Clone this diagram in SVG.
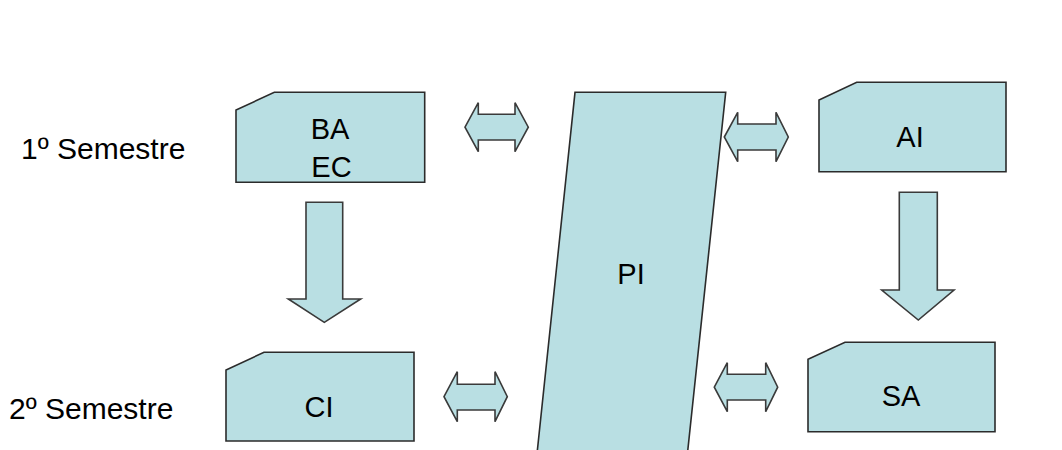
<svg xmlns="http://www.w3.org/2000/svg" width="1062" height="450" viewBox="0 0 1062 450">
<style>
.shape{fill:#B9DFE3;stroke:#2b2b2b;stroke-width:1.6;stroke-linejoin:miter}
.arrow{fill:#B9DFE3;stroke:#3a3a3a;stroke-width:1.6;stroke-linejoin:miter}
.lbl{font-family:"Liberation Sans",Arial,sans-serif;font-size:29px;fill:#000;text-anchor:middle}
.side{font-family:"Liberation Sans",Arial,sans-serif;font-size:30px;fill:#000}
</style>
<rect width="1062" height="450" fill="#ffffff"/>
<g id="label-sem1"><text class="side" x="21" y="158.5">1º Semestre</text></g>
<g id="label-sem2"><text class="side" x="9" y="418.5">2º Semestre</text></g>
<g id="node-PI">
<polygon class="shape" points="575,92.3 725.7,92.3 685.7,470 535.3,470"/>
<text class="lbl" x="631" y="283.5">PI</text>
</g>
<g id="node-BAEC">
<polygon class="shape" points="274.3,92.3 424.7,92.3 424.7,182.3 236,182.3 236,110"/>
<text class="lbl" x="330" y="138.5">BA</text>
<text class="lbl" x="331.5" y="177">EC</text>
</g>
<g id="node-AI">
<polygon class="shape" points="856.7,82.3 1006,82.3 1006,171.7 819,171.7 819,100"/>
<text class="lbl" x="910" y="147">AI</text>
</g>
<g id="node-CI">
<polygon class="shape" points="264,352.3 414,352.3 414,441 226,441 226,370"/>
<text class="lbl" x="319" y="416.5">CI</text>
</g>
<g id="node-SA">
<polygon class="shape" points="845,342.3 995,342.3 995,431.7 808,431.7 808,359.3"/>
<text class="lbl" x="901" y="405.5">SA</text>
</g>
<g id="connectors">
<polygon class="arrow" points="465,127.2 478.3,102.7 478.3,114.3 515,114.3 515,102.7 528.3,127.2 515,151.7 515,140 478.3,140 478.3,151.7"/>
<polygon class="arrow" points="724.3,137 737.7,112.3 737.7,124 776,124 776,112.3 788.3,137 776,161.7 776,150 737.7,150 737.7,161.7"/>
<polygon class="arrow" points="444,396.7 457.3,371.7 457.3,384.3 495,384.3 495,371.7 507.3,396.7 495,421.7 495,410 457.3,410 457.3,421.7"/>
<polygon class="arrow" points="714.3,387.2 727.3,362.7 727.3,374.3 765.7,374.3 765.7,362.7 777.7,387.2 765.7,411.7 765.7,400 727.3,400 727.3,411.7"/>
<polygon class="arrow" points="306,202.3 342.7,202.3 342.7,299 360.7,299 324.3,322.3 288.3,299 306,299"/>
<polygon class="arrow" points="899.3,192.3 937.3,192.3 937.3,290 954,290 918.3,320 881.7,290 899.3,290"/>
</g>
</svg>
